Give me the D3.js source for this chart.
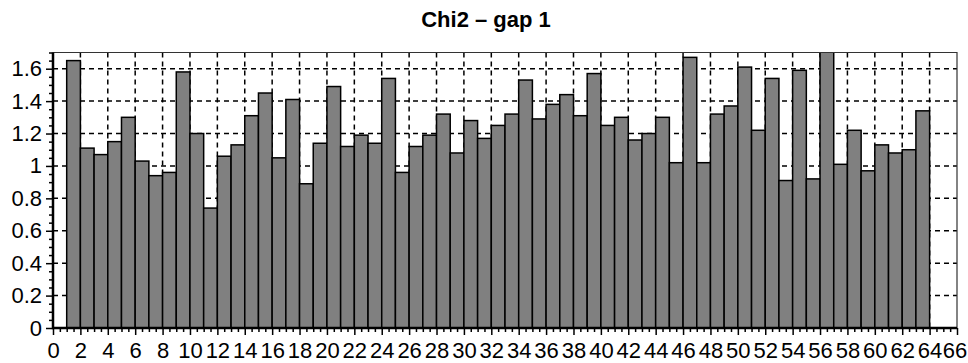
<!DOCTYPE html>
<html lang="en">
<head>
  <meta charset="utf-8">
  <title>Chi2 – gap 1</title>
  <style>
    body { margin: 0; background: #fff; }
    svg text { font-family: "Liberation Sans", Arial, sans-serif; fill: #000; }
    .grid line { stroke: #000; stroke-width: 1.5; stroke-dasharray: 5 4; }
    .axis path { display: none; }
    .axis line { stroke: #000; stroke-width: 1.5; }
  </style>
</head>
<body>
  <script src="https://cdnjs.cloudflare.com/ajax/libs/d3/7.8.5/d3.min.js"></script>
  <script type="text/javascript">
  // bar left edges (gap value) and chi2 heights
  const bins = [1, 2, 3, 4, 5, 6, 7, 8, 9, 10, 11, 12, 13, 14, 15, 16, 17, 18, 19, 20, 21,
    22, 23, 24, 25, 26, 27, 28, 29, 30, 31, 32, 33, 34, 35, 36, 37, 38, 39, 40, 41, 42,
    43, 44, 45, 46, 47, 48, 49, 50, 51, 52, 53, 54, 55, 56, 57, 58, 59, 60, 61, 62, 63];
  const chi2 = [1.65, 1.11, 1.07, 1.15, 1.30, 1.03, 0.94, 0.96, 1.58, 1.20, 0.74, 1.06,
    1.13, 1.31, 1.45, 1.05, 1.41, 0.89, 1.14, 1.49, 1.12, 1.19, 1.14, 1.54, 0.96, 1.12,
    1.19, 1.32, 1.08, 1.28, 1.17, 1.25, 1.32, 1.53, 1.29, 1.38, 1.44, 1.31, 1.57, 1.25,
    1.30, 1.16, 1.20, 1.30, 1.02, 1.67, 1.02, 1.32, 1.37, 1.61, 1.22, 1.54, 0.91, 1.59,
    0.92, 1.80, 1.01, 1.22, 0.97, 1.13, 1.08, 1.10, 1.34];

  const xTicks = [0, 2, 4, 6, 8, 10, 12, 14, 16, 18, 20, 22, 24, 26, 28, 30, 32, 34, 36,
    38, 40, 42, 44, 46, 48, 50, 52, 54, 56, 58, 60, 62, 64, 66];
  const yTicks = [0, 0.2, 0.4, 0.6, 0.8, 1, 1.2, 1.4, 1.6];
  const yLabels = ["0", "0.2", "0.4", "0.6", "0.8", "1", "1.2", "1.4", "1.6"];
  const title = "Chi2 – gap 1";

  const margin = { top: 52.5, right: 11, bottom: 35, left: 53 };
  const width = 968 - margin.left - margin.right;
  const height = 363 - margin.top - margin.bottom;

  const svg = d3.select("body")
    .append("svg")
    .attr("width", 968)
    .attr("height", 363);

  svg.append("text")
    .attr("x", 486)
    .attr("y", 27)
    .attr("text-anchor", "middle")
    .style("font-size", "22px")
    .style("font-weight", "bold")
    .text(title);

  const g = svg.append("g")
    .attr("transform", `translate(${margin.left}, ${margin.top})`);

  const x = d3.scaleLinear().domain([0, 66]).range([0, width]);
  const y = d3.scaleLinear().domain([0, 1.7]).range([height, 0]);

  g.append("clipPath").attr("id", "plot")
    .append("rect").attr("width", width).attr("height", height);

  // dashed grid
  g.append("g").attr("class", "grid")
    .selectAll("line")
    .data(yTicks.filter(d => d > 0))
    .enter().append("line")
    .attr("x1", 0).attr("x2", width)
    .attr("y1", d => y(d)).attr("y2", d => y(d));

  g.append("g").attr("class", "grid")
    .selectAll("line")
    .data(xTicks.filter(d => d > 0 && d < 66))
    .enter().append("line")
    .attr("x1", d => x(d)).attr("x2", d => x(d))
    .attr("y1", 0).attr("y2", height);

  // bars
  g.append("g")
    .attr("clip-path", "url(#plot)")
    .selectAll("rect")
    .data(bins)
    .enter().append("rect")
    .attr("x", d => x(d))
    .attr("width", d => x(d + 1) - x(d))
    .attr("y", (d, i) => y(chi2[i]))
    .attr("height", (d, i) => height - y(chi2[i]))
    .attr("fill", "#808080")
    .attr("stroke", "#000")
    .attr("stroke-width", 1.5);

  // frame top / right
  g.append("path")
    .attr("d", `M0,0H${width}V${height}`)
    .attr("fill", "none")
    .attr("stroke", "#333")
    .attr("stroke-width", 1.2);

  // minor ticks
  const xMinor = [];
  for (let v = 0; v <= 66; v += 0.5) if (v % 2 !== 0) xMinor.push(v);
  const yMinor = [];
  for (let k = 0; k <= 34; k++) if (k % 4 !== 0) yMinor.push(k * 0.05);

  g.append("g").attr("class", "axis")
    .attr("transform", `translate(0, ${height})`)
    .call(d3.axisBottom(x).tickValues(xMinor).tickSize(4).tickFormat(""));

  g.append("g").attr("class", "axis")
    .attr("transform", `translate(0, ${height})`)
    .call(d3.axisBottom(x).tickValues(xTicks).tickSize(7).tickPadding(7))
    .selectAll("text")
    .style("font-size", "22px")
    .attr("dx", d => d === 66 ? "-2.5" : null);

  g.append("g").attr("class", "axis")
    .call(d3.axisLeft(y).tickValues(yMinor).tickSize(4).tickFormat(""));

  g.append("g").attr("class", "axis")
    .call(d3.axisLeft(y).tickValues(yTicks).tickSize(7).tickPadding(4)
      .tickFormat((d, i) => yLabels[i]))
    .selectAll("text").style("font-size", "22px");

  // thick axis lines
  g.append("path")
    .attr("d", `M0,0V${height}H${width}`)
    .attr("fill", "none")
    .attr("stroke", "#000")
    .attr("stroke-width", 2.5);
  </script>
</body>
</html>
